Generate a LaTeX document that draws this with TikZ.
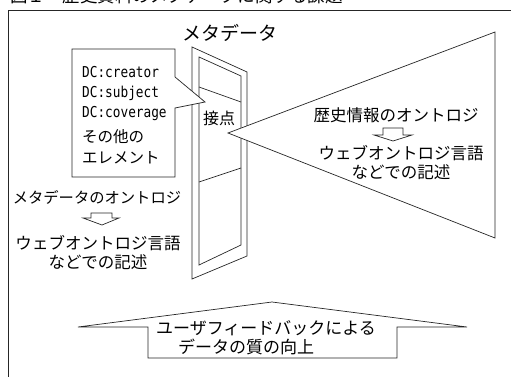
\documentclass[tikz,border=0pt]{standalone}
\usepackage{fontspec}
\setmainfont{Noto Sans CJK JP}
\newfontfamily\dcfont[FakeStretch=0.85]{DejaVu Sans Mono}
\begin{document}
\begin{tikzpicture}[x=1pt,y=-1pt,
  ln/.style={line width=0.7pt,draw=black!85,line join=miter},
  wf/.style={ln,fill=white},
  tx/.style={inner sep=0pt,font=\fontsize{16.5}{16.5}\selectfont},
  dc/.style={inner sep=0pt,anchor=west,font=\fontsize{15}{15}\selectfont\dcfont},
  jb/.style={inner sep=0pt,anchor=west,font=\fontsize{15.5}{15.5}\selectfont}]
\useasboundingbox (0,0) rectangle (511,377);
% title (cut off at top)
\begin{scope}
\clip (0,0) rectangle (511,6);
\node[inner sep=0pt,anchor=base west,font=\fontsize{17.5}{17.5}\selectfont] (title) at (10,2.5) {図１　歴史資料のメタデータに関する課題};
\end{scope}
% frame
\draw[ln] (8,377) -- (8,10) -- (511,10);
% door
\draw[ln] (192,47) -- (247,72) -- (247,256) -- (192,279) -- cycle;
\draw[ln] (199,57) -- (241,76) -- (241,245) -- (199,265) -- cycle;
\draw[ln] (199,87) -- (241,102);
\draw[ln] (199,182) -- (241,168);
\node[inner sep=0pt,font=\fontsize{19}{19}\selectfont] (meta) at (230,33) {メタデータ};
\node[inner sep=0pt,font=\fontsize{16}{16}\selectfont] (contact) at (219,118) {接点};
% left callout
\draw[wf] (72,49) -- (175,49) -- (175,77) -- (205,102) -- (175,108) -- (175,177) -- (72,177) -- cycle;
\node[dc] (dc1) at (82,72) {DC:creator};
\node[dc] (dc2) at (82,93) {DC:subject};
\node[dc] (dc3) at (82,114) {DC:coverage};
\node[jb] (oth1) at (82,137) {その他の};
\node[jb] (oth2) at (82,158) {エレメント};
% right spotlight triangle
\draw[wf] (228,133) -- (495,32) -- (495,238) -- cycle;
\node[tx] (hist) at (396,115) {歴史情報のオントロジ};
\draw[ln] (383,128) -- (403,128) -- (403,135) -- (412,135) -- (393,141) -- (374,135) -- (383,135) -- cycle;
\node[tx] (web1) at (401,153) {ウェブオントロジ言語};
\node[tx] (desc1) at (401,172) {などでの記述};
% left ontology text
\node[tx,font=\fontsize{15.3}{15.3}\selectfont] (metaont) at (97,197) {メタデータのオントロジ};
\draw[ln] (91,213) -- (112,213) -- (112,218) -- (119,218) -- (102,225) -- (83,218) -- (91,218) -- cycle;
\node[tx] (web2) at (98,243) {ウェブオントロジ言語};
\node[tx] (desc2) at (98,262) {などでの記述};
% bottom arrow
\draw[ln] (78,327) -- (272,302) -- (467,327) -- (397,327) -- (397,358) -- (148,358) -- (148,327) -- cycle;
\node[tx,font=\fontsize{17}{17}\selectfont] (fb1) at (266,328) {ユーザフィードバックによる};
\node[tx,font=\fontsize{17}{17}\selectfont] (fb2) at (246,347) {データの質の向上};
\end{tikzpicture}
\end{document}
